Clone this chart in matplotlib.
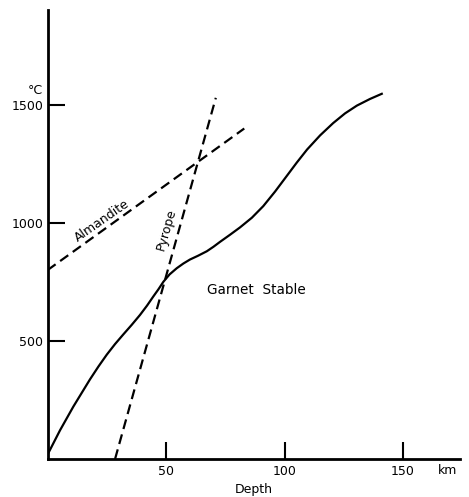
import matplotlib
matplotlib.use("Agg")
import matplotlib.pyplot as plt

# solid curve (depth km, temperature C)
curve_depth = [0.3, 5.3, 10.9, 17.9, 21.5, 25, 28.5, 32, 35.5, 39, 42, 44.6,
               46.8, 48.9, 51.5, 54.5, 57.3, 60.1, 63.5, 67.2, 70, 72.8, 77,
               81.2, 86.2, 91, 96, 101, 105.1, 109.5, 115, 120.5, 125.5,
               130.5, 136, 141]
curve_temp = [24, 122, 222, 337, 392, 442, 487, 528, 568, 610, 650, 688,
              719, 751, 782, 808, 828, 845, 861, 880, 899, 920, 950,
              981, 1022, 1071, 1133, 1200, 1255, 1311, 1371, 1423, 1464,
              1497, 1525, 1547]

# dashed boundaries
pyrope_depth = [28.5, 71]
pyrope_temp = [0, 1530]
almandite_depth = [0, 83]
almandite_temp = [800, 1400]

xticks = [50, 100, 150]
yticks = [500, 1000, 1500]

fig = plt.figure(figsize=(4.69, 4.97), dpi=100)
ax = fig.add_axes([47.5 / 469, 38 / 497, 412.5 / 469, 449 / 497])

ax.plot(curve_depth, curve_temp, color="black", lw=1.6, solid_joinstyle="round")
ax.plot(pyrope_depth, pyrope_temp, color="black", lw=1.6, dashes=(4.5, 2.5))
ax.plot(almandite_depth, almandite_temp, color="black", lw=1.6, dashes=(4.5, 2.5))

ax.set_xlim(0, 174)
ax.set_ylim(0, 1902)
ax.spines["top"].set_visible(False)
ax.spines["right"].set_visible(False)
ax.spines["left"].set_linewidth(2)
ax.spines["bottom"].set_linewidth(2)

ax.set_xticks(xticks)
ax.set_yticks(yticks)
ax.tick_params(direction="in", length=12, width=1.5, labelsize=9, pad=4)
ax.tick_params(axis="y", pad=3)

ax.set_xlabel("Depth", fontsize=9, labelpad=4)
ax.text(168.6, -0.025, "km", transform=ax.get_xaxis_transform(),
        ha="center", va="center", fontsize=9)
ax.text(-5.3, 1563, "°C", ha="center", va="center", fontsize=9, clip_on=False)

ax.text(23, 1008, "Almandite", rotation=35, ha="center", va="center", fontsize=9)
ax.text(50, 970, "Pyrope", rotation=74, ha="center", va="center", fontsize=9)
ax.text(88, 716, "Garnet  Stable", ha="center", va="center", fontsize=9.8)

fig.savefig("out.png", dpi=100)
